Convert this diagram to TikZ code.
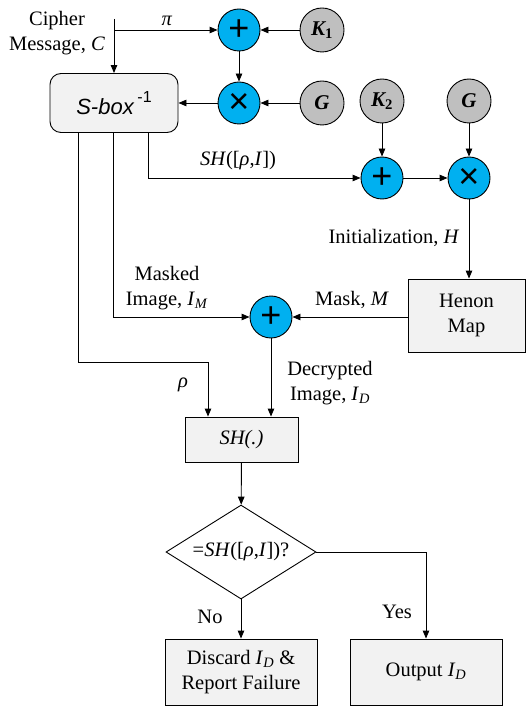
\documentclass[tikz,border=0pt]{standalone}
\usepackage{fontspec}
\setmainfont{Liberation Serif}
\setsansfont{Liberation Sans}
\usetikzlibrary{arrows.meta,shapes.geometric}
\definecolor{myblue}{HTML}{00B0F0}
\definecolor{mygray}{HTML}{BFBFBF}
\definecolor{boxfill}{HTML}{F2F2F2}
\begin{document}
\begin{tikzpicture}[x=1pt,y=-1pt,
  font=\fontsize{20.5}{25}\selectfont,
  line width=0.9pt,
  arr/.style={-{Triangle[length=8pt,width=6.5pt]}},
  blc/.style={circle,draw,fill=myblue,minimum size=42pt,inner sep=0pt,font=\sffamily\fontsize{36}{36}\selectfont},
  grc/.style={circle,draw,fill=mygray,minimum size=44pt,inner sep=0pt,font=\fontsize{21}{21}\selectfont\bfseries\itshape},
  boxn/.style={draw,fill=boxfill,inner sep=0pt,align=center},
  lbl/.style={inner sep=0pt,align=center}]
\useasboundingbox (0,0) rectangle (526,708);
% nodes
\node[boxn,rounded corners=11pt,minimum width=128pt,minimum height=59pt,font=\sffamily\itshape\fontsize{22}{22}\selectfont] (sbox) at (114,103) {S-box\,\raisebox{0.55em}{\upshape\fontsize{16}{16}\selectfont-1}};
\node[blc] (p1) at (239,30) {+};
\node[grc] (k1) at (322,30) {K\textsubscript{\upshape 1}};
\node[blc] (m1) at (239,103) {×};
\node[grc] (g1) at (322,103) {G};
\node[grc] (k2) at (382,101) {K\textsubscript{\upshape 2}};
\node[grc] (g2) at (469,101) {G};
\node[blc] (p2) at (382,178) {+};
\node[blc] (m2) at (469,178) {×};
\node[boxn,minimum width=117pt,minimum height=73pt] (henon) at (466.5,315.5) {Henon\\Map};
\node[blc] (p3) at (271,317) {+};
\node[boxn,minimum width=113pt,minimum height=45pt] (sh) at (241.5,439.5) {\textit{SH(.)}};
\node[diamond,draw,aspect=1.6,minimum width=150pt,minimum height=94pt,inner sep=0pt] (dec) at (241,552) {=\textit{SH}([\textit{ρ},\textit{I}])?};
\node[boxn,minimum width=152pt,minimum height=66pt] (disc) at (241,672) {Discard \textit{I}\textsubscript{\textit{D}} \&\\Report Failure};
\node[boxn,minimum width=152pt,minimum height=66pt] (out) at (426,672) {Output \textit{I}\textsubscript{\textit{D}}};
% connectors
\coordinate (cin) at (114,19);
\draw[arr] (cin) -- (sbox.north);
\draw[arr] (cin |- p1) -- (p1);
\draw[arr] (k1) -- (p1);
\draw[arr] (p1) -- (m1);
\draw[arr] (g1) -- (m1);
\draw[arr] (m1) -- (sbox);
\draw[arr] (k2) -- (p2);
\draw[arr] (g2) -- (m2);
\draw[arr] (p2) -- (m2);
\draw[arr] (m2) -- (m2 |- henon.north);
\draw[arr] ([xshift=34pt]sbox.south) |- (p2);
\draw[arr] ([xshift=-1pt]sbox.south) |- (p3);
\coordinate (rb) at (208,362);
\draw[arr] ([xshift=-36pt]sbox.south) |- (rb) -- (rb |- sh.north);
\draw[arr] (henon.west |- p3) -- (p3);
\draw[arr] (p3) -- (p3 |- sh.north);
\draw[arr] (sh) -- (dec);
\draw[arr] (dec) -- (disc);
\draw[arr] (dec.east) -| (out.north);
% labels
\node[lbl] (lc) at (57,33) {Cipher\\Message, \textit{C}};
\node[lbl] (lpi) at (167,21) {\textit{π}};
\node[lbl] (lsh) at (238,161) {\textit{SH}([\textit{ρ},\textit{I}])};
\node[lbl] (lini) at (394,238) {Initialization, \textit{H}};
\node[lbl] (lmi) at (167,288) {Masked\\Image, \textit{I}\textsubscript{\textit{M}}};
\node[lbl] (lmask) at (352,300) {Mask, \textit{M}};
\node[lbl] (lrho) at (183,385) {\textit{ρ}};
\node[lbl] (ldec) at (330,383) {Decrypted\\Image, \textit{I}\textsubscript{\textit{D}}};
\node[lbl] (lno) at (210,617) {No};
\node[lbl] (lyes) at (397,612) {Yes};
\end{tikzpicture}
\end{document}
